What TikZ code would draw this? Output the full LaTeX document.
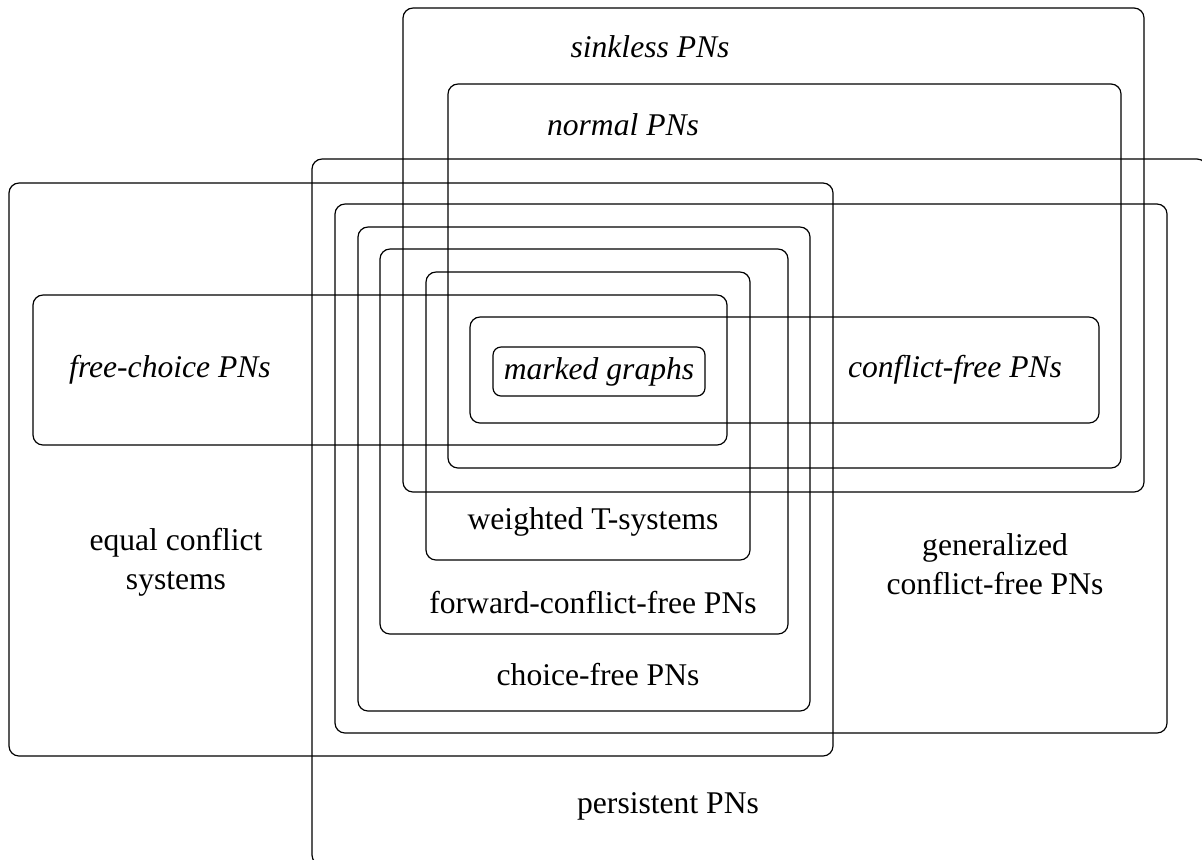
\documentclass[tikz,border=0pt]{standalone}
\usepackage{fontspec}
\setmainfont{Liberation Serif}
\begin{document}
\begin{tikzpicture}[x=0.5pt,y=-0.5pt,
  region/.style={draw,line width=0.6pt,rounded corners=5pt},
  lbl/.style={inner sep=0pt,font=\fontsize{15.8}{19.5}\selectfont,align=center},
  ilbl/.style={lbl,font=\fontsize{15.8}{19.5}\selectfont\itshape}]
\useasboundingbox (0,0) rectangle (1202,859);
\clip (0,0) rectangle (1202,859);
% persistent PNs
\draw[region] (312,159) rectangle (1207,865);
% sinkless
\draw[region] (403,8) rectangle (1144,492);
% normal
\draw[region] (448,84) rectangle (1121,468);
% equal conflict
\draw[region] (9,183) rectangle (833,756);
% generalized conflict-free
\draw[region] (335,204) rectangle (1167,733);
% choice-free
\draw[region] (358,227) rectangle (810,711);
% forward-conflict-free
\draw[region] (380,249) rectangle (788,634);
% weighted T-systems
\draw[region] (426,272) rectangle (750,560);
% free-choice
\draw[region] (33,295) rectangle (727,445);
% conflict-free
\draw[region] (470,317) rectangle (1099,423);
% marked graphs
\draw[region,rounded corners=4pt] (493,347) rectangle (705,396);

\node[ilbl] (sink) at (650,47) {sinkless PNs};
\node[ilbl] (norm) at (623,125) {normal PNs};
\node[ilbl] (fc) at (170,370) {free-choice PNs};
\node[ilbl] (mg) at (599,372) {marked graphs};
\node[ilbl] (cf) at (955,370) {conflict-free PNs};
\node[lbl] (wts) at (593,522) {weighted T-systems};
\node[lbl] (ecs) at (176,562) {equal conflict\\systems};
\node[lbl] (gcf) at (995,564) {generalized\\conflict-free PNs};
\node[lbl] (fcf) at (593,603) {forward-conflict-free PNs};
\node[lbl] (chf) at (598,675) {choice-free PNs};
\node[lbl] (pers) at (668,806) {persistent PNs};
\end{tikzpicture}
\end{document}
